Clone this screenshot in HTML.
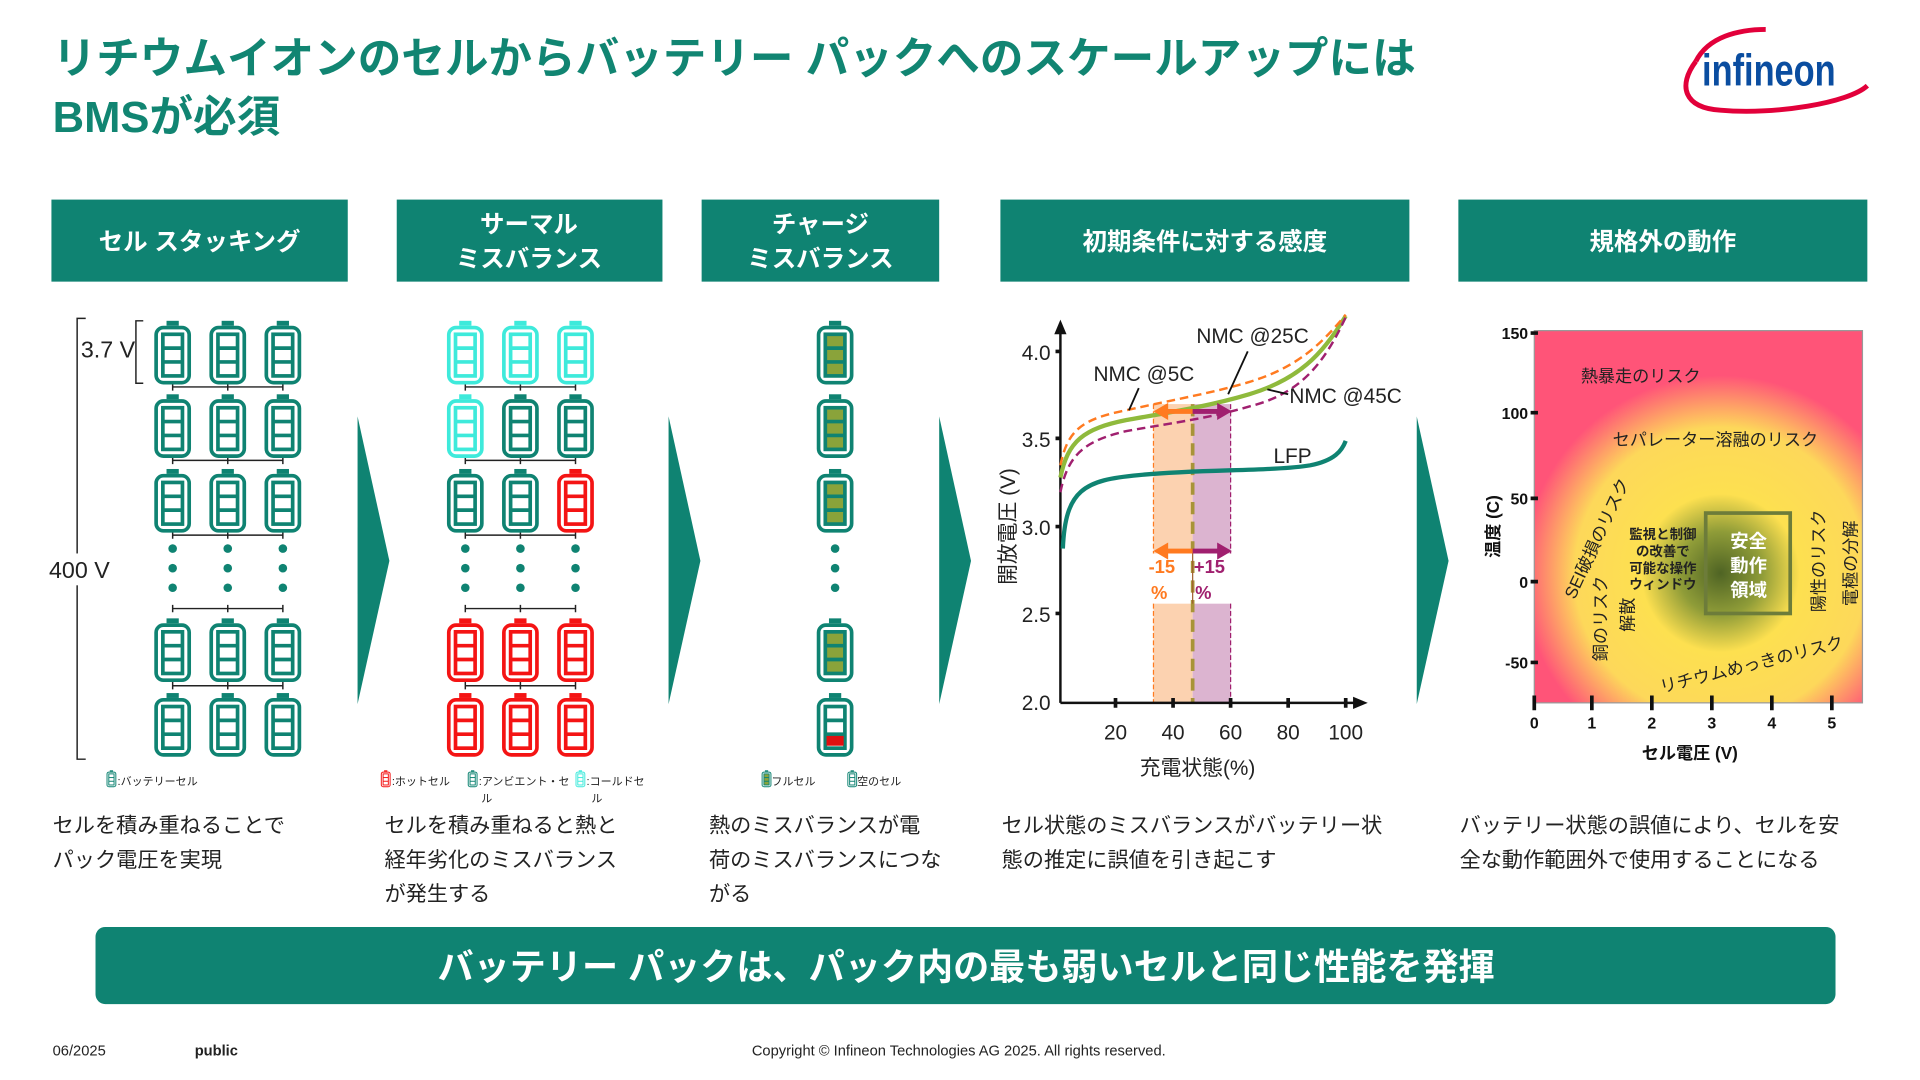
<!DOCTYPE html>
<html><head><meta charset="utf-8"><style>
html,body{margin:0;padding:0;background:#fff;}
svg{display:block;font-family:"Liberation Sans","Noto Sans CJK JP",sans-serif;}
</style></head><body>
<svg width="1920" height="1080" viewBox="0 0 1568 882" preserveAspectRatio="none" xmlns="http://www.w3.org/2000/svg">
<defs>
<symbol id="bat" viewBox="0 0 30 52" width="30" height="52" overflow="visible">
<rect x="10" y="0" width="10" height="4" fill="currentColor"/>
<rect x="1.5" y="5.5" width="27" height="45" rx="6" fill="#fff" stroke="currentColor" stroke-width="3"/>
<rect x="7" y="11" width="16" height="34" fill="#fff" stroke="currentColor" stroke-width="3"/>
<line x1="7" y1="22.3" x2="23" y2="22.3" stroke="currentColor" stroke-width="3"/>
<line x1="7" y1="33.6" x2="23" y2="33.6" stroke="currentColor" stroke-width="3"/>
</symbol>
<symbol id="batf" viewBox="0 0 30 52" width="30" height="52" overflow="visible">
<rect x="10" y="0" width="10" height="4" fill="#0f8372"/>
<rect x="1.5" y="5.5" width="27" height="45" rx="6" fill="#fff" stroke="#0f8372" stroke-width="3"/>
<rect x="7" y="11" width="16" height="34" fill="#8aa33a" stroke="#0f8372" stroke-width="3"/>
<line x1="7" y1="22.3" x2="23" y2="22.3" stroke="#0f8372" stroke-width="3"/>
<line x1="7" y1="33.6" x2="23" y2="33.6" stroke="#0f8372" stroke-width="3"/>
</symbol>
<radialGradient id="rg" cx="1405" cy="468" r="170" gradientUnits="userSpaceOnUse">
<stop offset="0" stop-color="#4f6424"/>
<stop offset="0.2" stop-color="#8f9c38"/>
<stop offset="0.38" stop-color="#fde050"/>
<stop offset="0.7" stop-color="#fdd85a"/>
<stop offset="0.95" stop-color="#ff5478"/>
<stop offset="1" stop-color="#ff5478"/>
</radialGradient>
</defs>

<!-- Title -->
<g fill="#118572" font-weight="bold" font-size="35.6">
<text x="43" y="60">リチウムイオンのセルからバッテリー パックへのスケールアップには</text>
<text x="43" y="108">BMSが必須</text>
</g>
<!-- Logo -->
<path d="M1385 50 C1370 70 1375 88 1405 90 C1450 94 1510 84 1525 70" fill="none" stroke="#e2003a" stroke-width="4"/>
<path d="M1385 50 C1395 30 1420 24 1442 24" fill="none" stroke="#e2003a" stroke-width="4"/>
<text x="1390" y="70" font-size="36" fill="#0a4da0" font-weight="bold" transform="translate(1390 70) scale(0.78 1) translate(-1390 -70)">infineon</text>

<!-- Header boxes -->
<g fill="#0f8372">
<rect x="42" y="163" width="242" height="67"/>
<rect x="324" y="163" width="217" height="67"/>
<rect x="573" y="163" width="194" height="67"/>
<rect x="817" y="163" width="334" height="67"/>
<rect x="1191" y="163" width="334" height="67"/>
</g>
<g fill="#fff" font-size="20" font-weight="bold" text-anchor="middle">
<text x="163" y="204">セル スタッキング</text>
<text x="432" y="190">サーマル</text>
<text x="432" y="218">ミスバランス</text>
<text x="670" y="190">チャージ</text>
<text x="670" y="218">ミスバランス</text>
<text x="984" y="204">初期条件に対する感度</text>
<text x="1358" y="204">規格外の動作</text>
</g>

<!-- chevrons -->
<g fill="#0f8372">
<polygon points="292,340 318,458 292,575"/>
<polygon points="546,340 572,458 546,575"/>
<polygon points="767,340 793,458 767,575"/>
<polygon points="1157,340 1183,458 1157,575"/>
</g>

<!-- Column 1 -->
<g stroke="#222" stroke-width="1.2" fill="none">
<path d="M70 260 H63 V620 H70"/>
<path d="M117 262 H111 V313 H117"/>
<path d="M141 316 H231 M141 313 V319 M186 313 V319 M231 313 V319"/>
<path d="M141 376 H231 M141 373 V379 M186 373 V379 M231 373 V379"/>
<path d="M141 437 H231 M141 434 V440 M186 434 V440 M231 434 V440"/>
<path d="M141 497 H231 M141 494 V500 M186 494 V500 M231 494 V500"/>
<path d="M141 560 H231 M141 557 V563 M186 557 V563 M231 557 V563"/>
<path d="M380 316 H470 M380 313 V319 M425 313 V319 M470 313 V319"/>
<path d="M380 376 H470 M380 373 V379 M425 373 V379 M470 373 V379"/>
<path d="M380 437 H470 M380 434 V440 M425 434 V440 M470 434 V440"/>
<path d="M380 497 H470 M380 494 V500 M425 494 V500 M470 494 V500"/>
<path d="M380 560 H470 M380 557 V563 M425 557 V563 M470 557 V563"/>
</g>
<rect x="40" y="452" width="40" height="26" fill="#fff"/>
<text x="40" y="472" font-size="19" fill="#222">400 V</text>
<text x="66" y="292" font-size="19" fill="#222">3.7 V</text>
<g style="color:#0f8372">
<use href="#bat" x="126" y="262"/><use href="#bat" x="171" y="262"/><use href="#bat" x="216" y="262"/>
<use href="#bat" x="126" y="322"/><use href="#bat" x="171" y="322"/><use href="#bat" x="216" y="322"/>
<use href="#bat" x="126" y="383"/><use href="#bat" x="171" y="383"/><use href="#bat" x="216" y="383"/>
<use href="#bat" x="126" y="505"/><use href="#bat" x="171" y="505"/><use href="#bat" x="216" y="505"/>
<use href="#bat" x="126" y="566"/><use href="#bat" x="171" y="566"/><use href="#bat" x="216" y="566"/>
</g>
<g fill="#0f8372">
<circle cx="141" cy="448" r="3.5"/><circle cx="141" cy="464" r="3.5"/><circle cx="141" cy="480" r="3.5"/>
<circle cx="186" cy="448" r="3.5"/><circle cx="186" cy="464" r="3.5"/><circle cx="186" cy="480" r="3.5"/>
<circle cx="231" cy="448" r="3.5"/><circle cx="231" cy="464" r="3.5"/><circle cx="231" cy="480" r="3.5"/>
<circle cx="380" cy="448" r="3.5"/><circle cx="380" cy="464" r="3.5"/><circle cx="380" cy="480" r="3.5"/>
<circle cx="425" cy="448" r="3.5"/><circle cx="425" cy="464" r="3.5"/><circle cx="425" cy="480" r="3.5"/>
<circle cx="470" cy="448" r="3.5"/><circle cx="470" cy="464" r="3.5"/><circle cx="470" cy="480" r="3.5"/>
<circle cx="682" cy="448" r="3.5"/><circle cx="682" cy="464" r="3.5"/><circle cx="682" cy="480" r="3.5"/>
</g>

<!-- Column 2 -->
<g style="color:#3eeadb">
<use href="#bat" x="365" y="262"/><use href="#bat" x="410" y="262"/><use href="#bat" x="455" y="262"/>
<use href="#bat" x="365" y="322"/>
</g>
<g style="color:#0f8372">
<use href="#bat" x="410" y="322"/><use href="#bat" x="455" y="322"/>
<use href="#bat" x="365" y="383"/><use href="#bat" x="410" y="383"/>
</g>
<g style="color:#f41414">
<use href="#bat" x="455" y="383"/>
<use href="#bat" x="365" y="505"/><use href="#bat" x="410" y="505"/><use href="#bat" x="455" y="505"/>
<use href="#bat" x="365" y="566"/><use href="#bat" x="410" y="566"/><use href="#bat" x="455" y="566"/>
</g>

<!-- Column 3 -->
<use href="#batf" x="667" y="262"/>
<use href="#batf" x="667" y="322"/>
<use href="#batf" x="667" y="383"/>
<use href="#batf" x="667" y="505"/>
<g style="color:#0f8372"><use href="#bat" x="667" y="566"/></g>
<rect x="675" y="601" width="14" height="8" fill="#e01010"/>

<!-- legends -->
<g font-size="9" fill="#222">
<g style="color:#0f8372"><use href="#bat" x="87" y="629" width="8" height="14"/></g>
<text x="96" y="641">:バッテリーセル</text>
<g style="color:#f41414"><use href="#bat" x="311" y="629" width="8" height="14"/></g>
<text x="320" y="641">:ホットセル</text>
<g style="color:#0f8372"><use href="#bat" x="382" y="629" width="8" height="14"/></g>
<text x="391" y="641">:アンビエント・セ</text><text x="393" y="655">ル</text>
<g style="color:#3eeadb"><use href="#bat" x="470" y="629" width="8" height="14"/></g>
<text x="479" y="641">:コールドセ</text><text x="483" y="655">ル</text>
<use href="#batf" x="622" y="629" width="8" height="14"/>
<text x="630" y="641">フルセル</text>
<g style="color:#0f8372"><use href="#bat" x="692" y="629" width="8" height="14"/></g>
<text x="700" y="641">空のセル</text>
</g>

<!-- descriptions -->
<g font-size="17.3" fill="#222">
<text x="43" y="680">セルを積み重ねることで</text>
<text x="43" y="708">パック電圧を実現</text>
<text x="314" y="680">セルを積み重ねると熱と</text>
<text x="314" y="708">経年劣化のミスバランス</text>
<text x="314" y="736">が発生する</text>
<text x="579" y="680">熱のミスバランスが電</text>
<text x="579" y="708">荷のミスバランスにつな</text>
<text x="579" y="736">がる</text>
<text x="818" y="680">セル状態のミスバランスがバッテリー状</text>
<text x="818" y="708">態の推定に誤値を引き起こす</text>
<text x="1192" y="680">バッテリー状態の誤値により、セルを安</text>
<text x="1192" y="708">全な動作範囲外で使用することになる</text>
</g>

<!-- Chart 1 -->
<rect x="942" y="330" width="32" height="122" fill="#fcd2b0"/>
<rect x="942" y="493" width="32" height="81" fill="#fcd2b0"/>
<rect x="974" y="330" width="31" height="122" fill="#dcb4d0"/>
<rect x="974" y="493" width="31" height="81" fill="#dcb4d0"/>
<path d="M942 330 V452 M942 493 V574" stroke="#ff7a20" stroke-width="1" stroke-dasharray="4 2"/>
<path d="M1005 330 V452 M1005 493 V574" stroke="#a0206f" stroke-width="1" stroke-dasharray="4 2"/>
<line x1="974" y1="330" x2="974" y2="574" stroke="#a89438" stroke-width="3" stroke-dasharray="10 6"/>
<g stroke="#111" stroke-width="2" fill="none">
<path d="M866 574 V268"/>
<path d="M866 574 H1110"/>
</g>
<polygon points="866,261 861,273 871,273" fill="#111"/>
<polygon points="1117,574 1105,569 1105,579" fill="#111"/>
<g stroke="#111" stroke-width="3">
<path d="M911 570 V578 M958 570 V578 M1005 570 V578 M1052 570 V578 M1099 570 V578"/>
<path d="M862 287 H866 M862 358 H866 M862 430 H866 M862 501 H866"/>
</g>
<g font-size="17" fill="#222">
<text x="858" y="294" text-anchor="end">4.0</text>
<text x="858" y="365" text-anchor="end">3.5</text>
<text x="858" y="437" text-anchor="end">3.0</text>
<text x="858" y="508" text-anchor="end">2.5</text>
<text x="858" y="580" text-anchor="end">2.0</text>
<text x="911" y="604" text-anchor="middle">20</text>
<text x="958" y="604" text-anchor="middle">40</text>
<text x="1005" y="604" text-anchor="middle">60</text>
<text x="1052" y="604" text-anchor="middle">80</text>
<text x="1099" y="604" text-anchor="middle">100</text>
<text x="978" y="633" text-anchor="middle">充電状態(%)</text>
<text transform="translate(829 430) rotate(-90)" text-anchor="middle">開放電圧 (V)</text>
</g>
<path d="M868 448 C870 400 885 392 930 388 C980 383 1040 385 1070 380 C1090 376 1096 368 1099 360" fill="none" stroke="#0f8372" stroke-width="3.5"/>
<path d="M866 390 C872 360 885 350 920 343 C960 336 990 331 1020 322 C1060 310 1080 290 1099 258" fill="none" stroke="#8fba3c" stroke-width="3.5"/>
<path d="M866 380 C872 350 885 342 920 335 C960 326 990 321 1020 312 C1060 300 1080 280 1099 257" fill="none" stroke="#ff7a20" stroke-width="2" stroke-dasharray="7 4"/>
<path d="M866 402 C872 372 885 360 920 352 C960 345 990 341 1020 332 C1060 322 1080 300 1099 259" fill="none" stroke="#a0206f" stroke-width="2" stroke-dasharray="7 4"/>
<g stroke-width="4">
<line x1="974" y1="336" x2="950" y2="336" stroke="#ff7a20"/>
<line x1="974" y1="336" x2="996" y2="336" stroke="#a0206f"/>
<line x1="974" y1="450" x2="950" y2="450" stroke="#ff7a20"/>
<line x1="974" y1="450" x2="996" y2="450" stroke="#a0206f"/>
</g>
<polygon points="942,336 954,329 954,343" fill="#ff7a20"/>
<polygon points="1006,336 994,329 994,343" fill="#a0206f"/>
<polygon points="942,450 954,443 954,457" fill="#ff7a20"/>
<polygon points="1006,450 994,443 994,457" fill="#a0206f"/>
<line x1="974" y1="452" x2="974" y2="493" stroke="#a06030" stroke-width="1"/>
<g font-size="15" font-weight="bold">
<text x="938" y="468" fill="#ff7a20">-15</text>
<text x="940" y="489" fill="#ff7a20">%</text>
<text x="975" y="468" fill="#a0206f">+15</text>
<text x="976" y="489" fill="#a0206f">%</text>
</g>
<g font-size="17" fill="#222">
<text x="977" y="280">NMC @25C</text>
<text x="893" y="311">NMC @5C</text>
<text x="1053" y="329">NMC @45C</text>
<text x="1040" y="378">LFP</text>
</g>
<g stroke="#111" stroke-width="1.5">
<line x1="1019" y1="287" x2="1003" y2="322"/>
<line x1="930" y1="317" x2="922" y2="335"/>
<line x1="1052" y1="322" x2="1035" y2="318"/>
</g>

<!-- Chart 2 -->
<rect x="1253" y="270" width="268" height="304" fill="url(#rg)" stroke="#999" stroke-width="1"/>
<rect x="1393" y="419" width="69" height="82" fill="none" stroke="#6d7c3a" stroke-width="3"/>
<g stroke="#111" stroke-width="3">
<path d="M1250 272 H1256 M1250 337 H1256 M1250 407 H1256 M1250 475 H1256 M1250 541 H1256"/>
<path d="M1253 568 V580 M1300 568 V580 M1349 568 V580 M1398 568 V580 M1447 568 V580 M1496 568 V580"/>
</g>
<g font-size="13" font-weight="bold" fill="#111">
<text x="1248" y="277" text-anchor="end">150</text>
<text x="1248" y="342" text-anchor="end">100</text>
<text x="1248" y="412" text-anchor="end">50</text>
<text x="1248" y="480" text-anchor="end">0</text>
<text x="1248" y="546" text-anchor="end">-50</text>
<text x="1253" y="595" text-anchor="middle">0</text>
<text x="1300" y="595" text-anchor="middle">1</text>
<text x="1349" y="595" text-anchor="middle">2</text>
<text x="1398" y="595" text-anchor="middle">3</text>
<text x="1447" y="595" text-anchor="middle">4</text>
<text x="1496" y="595" text-anchor="middle">5</text>
<text x="1380" y="620" text-anchor="middle" font-size="14">セル電圧 (V)</text>
<text transform="translate(1224 430) rotate(-90)" text-anchor="middle" font-size="14">温度 (C)</text>
</g>
<g font-size="14" fill="#222">
<text x="1291" y="312">熱暴走のリスク</text>
<text x="1317" y="364">セパレーター溶融のリスク</text>
<text transform="translate(1286 490) rotate(-65)">SEI破損のリスク</text>
<text transform="translate(1312 540) rotate(-90)">銅のリスク</text>
<text transform="translate(1334 516) rotate(-90)">解散</text>
<text transform="translate(1357 566) rotate(-14)">リチウムめっきのリスク</text>
<text transform="translate(1490 500) rotate(-90)">陽性のリスク</text>
<text transform="translate(1516 495) rotate(-90)">電極の分解</text>
</g>
<g font-size="11" font-weight="bold" fill="#222" text-anchor="middle">
<text x="1358" y="440">監視と制御</text>
<text x="1358" y="454">の改善で</text>
<text x="1358" y="468">可能な操作</text>
<text x="1358" y="481">ウィンドウ</text>
</g>
<g font-size="15" font-weight="bold" fill="#fff" text-anchor="middle">
<text x="1428" y="447">安全</text>
<text x="1428" y="467">動作</text>
<text x="1428" y="487">領域</text>
</g>

<!-- banner -->
<rect x="78" y="757" width="1421" height="63" rx="8" fill="#0f8372"/>
<text x="789" y="800" font-size="29.5" font-weight="bold" fill="#fff" text-anchor="middle">バッテリー パックは、パック内の最も弱いセルと同じ性能を発揮</text>

<!-- footer -->
<g font-size="12" fill="#222">
<text x="43" y="862">06/2025</text>
<text x="159" y="862" font-weight="bold">public</text>
<text x="783" y="862" text-anchor="middle">Copyright © Infineon Technologies AG 2025. All rights reserved.</text>
</g>
</svg>
</body></html>
